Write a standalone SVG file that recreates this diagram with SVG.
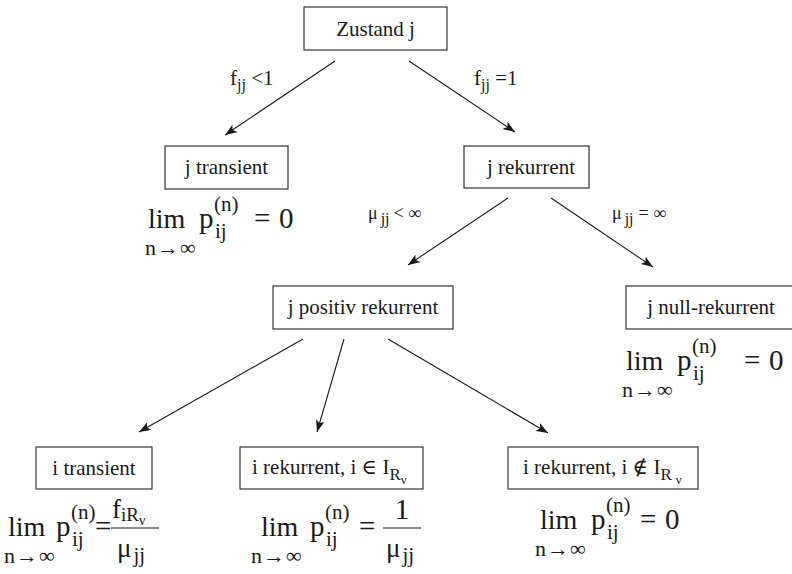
<svg xmlns="http://www.w3.org/2000/svg" width="792" height="574" viewBox="0 0 792 574" font-family="Liberation Serif, DejaVu Serif, serif">
<defs>
<marker id="ah" markerWidth="13" markerHeight="9" refX="12" refY="4.5" orient="auto" markerUnits="userSpaceOnUse"><path d="M0,0 L12,4.5 L0,9 L3,4.5 z" fill="#1a1a1a"/></marker>
</defs>
<style>
text{font-family:"Liberation Serif","DejaVu Serif",serif;fill:#1a1a1a}
.box{fill:#fff;stroke:#333;stroke-width:1.2}
.t{font-size:21px}
.m{font-size:29px}
.lim{font-size:28px}
.s{font-size:21px}
.a{font-size:22px;letter-spacing:1px}
.l{font-size:21px}
.e{stroke:#1a1a1a;stroke-width:1.1;fill:none;marker-end:url(#ah)}
</style>
<rect width="792" height="574" fill="#fff"/>
<g id="connectors">
<line class="e" x1="335" y1="61" x2="225" y2="135"/>
<line class="e" x1="409" y1="61" x2="515" y2="132"/>
<line class="e" x1="508" y1="198" x2="408" y2="265"/>
<line class="e" x1="551" y1="198" x2="653" y2="267"/>
<line class="e" x1="303" y1="339" x2="139" y2="432"/>
<line class="e" x1="344" y1="339" x2="317" y2="432"/>
<line class="e" x1="388" y1="339" x2="548" y2="433"/>
<text class="l" x="230" y="85">f<tspan dy="5" font-size="16">jj</tspan><tspan dy="-5"> &lt;1</tspan></text>
<text class="l" x="474" y="85">f<tspan dy="5" font-size="16">jj</tspan><tspan dy="-5"> =1</tspan></text>
<text x="368" y="219" font-size="18">μ<tspan dx="3" dy="5" font-size="16">jj</tspan><tspan dy="-5" dx="4">&lt; ∞</tspan></text>
<text x="612" y="219" font-size="18">μ<tspan dx="3" dy="5" font-size="16">jj</tspan><tspan dy="-5" dx="5">= ∞</tspan></text>
</g>
<g id="zustand">
<rect class="box" x="304" y="7" width="143" height="43"/>
<text class="t" x="375.5" y="36" text-anchor="middle">Zustand j</text>
</g>
<g id="j-transient">
<rect class="box" x="165" y="146" width="123" height="43"/>
<text class="t" x="226.5" y="174" text-anchor="middle">j transient</text>
<text class="lim" x="148" y="228">lim</text>
<text class="m" x="199" y="228">p</text>
<text class="s" x="214" y="211">(n)</text>
<text class="s" x="215" y="238">ij</text>
<text class="m" x="254" y="228">=</text>
<text class="m" x="279" y="228">0</text>
<text class="a" x="145" y="255">n→∞</text>
</g>
<g id="j-rekurrent">
<rect class="box" x="464" y="146" width="125" height="42"/>
<text class="t" x="531" y="174" text-anchor="middle">j rekurrent</text>
</g>
<g id="j-positiv-rekurrent">
<rect class="box" x="273" y="286" width="180" height="43"/>
<text class="t" x="363" y="314" text-anchor="middle">j positiv rekurrent</text>
</g>
<g id="j-null-rekurrent">
<rect class="box" x="626" y="286" width="172" height="43"/>
<text class="t" x="711" y="314" text-anchor="middle">j null-rekurrent</text>
<text class="lim" x="626" y="370">lim</text>
<text class="m" x="677" y="370">p</text>
<text class="s" x="692" y="353">(n)</text>
<text class="s" x="693" y="380">ij</text>
<text class="m" x="744" y="370">=</text>
<text class="m" x="769" y="370">0</text>
<text class="a" x="622" y="397">n→∞</text>
</g>
<g id="i-transient">
<rect class="box" x="36" y="447" width="116" height="42"/>
<text class="t" x="94" y="475" text-anchor="middle">i transient</text>
<text class="lim" x="8" y="536">lim</text>
<text class="m" x="56" y="536">p</text>
<text class="s" x="71" y="519">(n)</text>
<text class="s" x="72" y="546">ij</text>
<text class="m" x="95" y="536">=</text>
<line x1="111" y1="528" x2="159" y2="528" stroke="#1a1a1a" stroke-width="1.2"/>
<text x="112" y="518" font-size="27">f<tspan dy="3" font-size="19">iR</tspan><tspan dy="4" font-size="14">ν</tspan></text>
<text x="117" y="557" font-size="27">μ<tspan dx="2" dy="5" font-size="21">jj</tspan></text>
<text class="a" x="4" y="563">n→∞</text>
</g>
<g id="i-rekurrent-in">
<rect class="box" x="240" y="447" width="183" height="42"/>
<text class="t" x="252" y="474">i rekurrent, i ∈ I<tspan dy="6" font-size="17">R</tspan><tspan dy="4" font-size="13">ν</tspan></text>
<text class="lim" x="261" y="536">lim</text>
<text class="m" x="310" y="536">p</text>
<text class="s" x="325" y="519">(n)</text>
<text class="s" x="326" y="546">ij</text>
<text class="m" x="359" y="536">=</text>
<line x1="383" y1="528" x2="421" y2="528" stroke="#1a1a1a" stroke-width="1.2"/>
<text x="402" y="519" font-size="30" text-anchor="middle">1</text>
<text x="386" y="557" font-size="27">μ<tspan dx="2" dy="5" font-size="21">jj</tspan></text>
<text class="a" x="251" y="563">n→∞</text>
</g>
<g id="i-rekurrent-notin">
<rect class="box" x="508" y="447" width="190" height="42"/>
<text class="t" x="523" y="474">i rekurrent, i ∉ I<tspan dy="6" font-size="17">R</tspan><tspan dx="4" dy="4" font-size="13">ν</tspan></text>
<text class="lim" x="540" y="529">lim</text>
<text class="m" x="591" y="529">p</text>
<text class="s" x="606" y="512">(n)</text>
<text class="s" x="607" y="539">ij</text>
<text class="m" x="640" y="529">=</text>
<text class="m" x="665" y="529">0</text>
<text class="a" x="535" y="556">n→∞</text>
</g>
</svg>
